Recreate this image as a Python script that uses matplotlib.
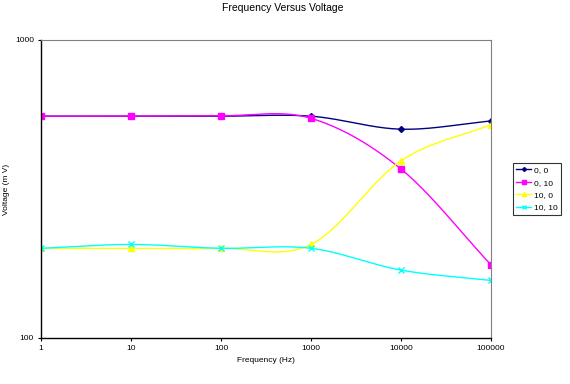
import numpy as np
import matplotlib.pyplot as plt
from matplotlib.ticker import FixedLocator, FixedFormatter, NullLocator

plt.rcParams['font.family'] = ['Liberation Sans', 'DejaVu Sans']

# --- datos ---
freq = [1, 10, 100, 1000, 10000, 100000]
v_0_0 = [555, 555, 555, 555, 502, 535]
v_0_10 = [555, 555, 557, 546, 369, 176]
v_10_0 = [200, 200, 200, 206, 393, 520]
v_10_10 = [200, 206, 200, 200, 169, 156]

series = [
    ("0, 0", v_0_0, "#000080", "D", 3),
    ("0, 10", v_0_10, "#FF00FF", "s", 4),
    ("10, 0", v_10_0, "#FFFF00", "^", 4),
    ("10, 10", v_10_10, "#00FFFF", "x", 4),
]


def suavizar(x, y, n=40):
    # spline tipo Catmull-Rom en espacio log-log (como el "smoothed line" de Excel)
    lx = np.log10(np.asarray(x, float))
    ly = np.log10(np.asarray(y, float))
    px = np.concatenate([[2 * lx[0] - lx[1]], lx, [2 * lx[-1] - lx[-2]]])
    py = np.concatenate([[2 * ly[0] - ly[1]], ly, [2 * ly[-1] - ly[-2]]])
    out_x, out_y = [], []
    t = np.linspace(0, 1, n)
    for i in range(1, len(px) - 2):
        for p, out in ((px, out_x), (py, out_y)):
            p0, p1, p2, p3 = p[i - 1], p[i], p[i + 1], p[i + 2]
            c1 = p1 + (p2 - p0) / 6
            c2 = p2 - (p3 - p1) / 6
            b = ((1 - t) ** 3 * p1 + 3 * (1 - t) ** 2 * t * c1
                 + 3 * (1 - t) * t ** 2 * c2 + t ** 3 * p2)
            out.extend(b)
    return 10 ** np.array(out_x), 10 ** np.array(out_y)


fig = plt.figure(figsize=(5.7, 3.84), dpi=100)
ax = fig.add_axes([41 / 570, 1 - 338 / 384, 450 / 570, 298 / 384])

for nombre, vals, color, marca, ms in series:
    sx, sy = suavizar(freq, vals)
    ax.plot(sx, sy, color=color, lw=1.0)
    ax.plot(freq, vals, linestyle="none", marker=marca, color=color,
            markersize=ms, markeredgewidth=1.0)
    ax.plot([], [], color=color, lw=1.0, marker=marca, markersize=ms - 1, label=nombre)

ax.set_xscale("log")
ax.set_yscale("log")
ax.set_xlim(1, 100000)
ax.set_ylim(100, 1000)

ax.xaxis.set_major_locator(FixedLocator(freq))
ax.xaxis.set_major_formatter(FixedFormatter([str(f) for f in freq]))
ax.xaxis.set_minor_locator(NullLocator())
ax.yaxis.set_major_locator(FixedLocator([100, 1000]))
ax.yaxis.set_major_formatter(FixedFormatter(["100", "1000"]))
ax.yaxis.set_minor_locator(NullLocator())
ax.tick_params(direction="out", length=2.5, width=0.8, labelsize=6, pad=2.5)

for lado in ("top", "right"):
    ax.spines[lado].set_color("#808080")
    ax.spines[lado].set_linewidth(0.8)
for lado in ("left", "bottom"):
    ax.spines[lado].set_color("black")
    ax.spines[lado].set_linewidth(1.0)

ax.set_xlabel("Frequency (Hz)", fontsize=6, labelpad=4)
ax.set_ylabel("Voltage (m V)", fontsize=6)
ax.yaxis.set_label_coords(-31 / 450, 0.5)
fig.text(283 / 570, 1 - 8 / 384, "Frequency Versus Voltage", fontsize=7.5,
         ha="center", va="center")

leg = fig.legend(loc="upper left", bbox_to_anchor=(513 / 570, 1 - 163 / 384),
                 fontsize=6, frameon=True, fancybox=False, edgecolor="black",
                 handlelength=1.8, handletextpad=0.3, borderpad=0.4,
                 labelspacing=0.55, borderaxespad=0)
leg.get_frame().set_linewidth(0.8)

fig.savefig("out.png", dpi=100)
